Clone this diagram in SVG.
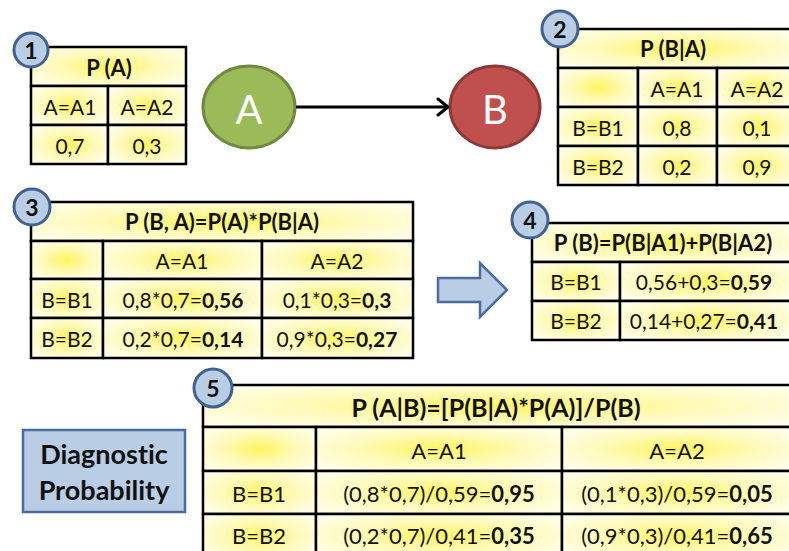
<svg xmlns="http://www.w3.org/2000/svg" width="789" height="551" viewBox="0 0 789 551">
  <defs>
    <radialGradient id="cell" cx="50%" cy="50%" r="60%">
      <stop offset="0" stop-color="#fff461"/>
      <stop offset="0.55" stop-color="#fffab8"/>
      <stop offset="1" stop-color="#fffde6"/>
    </radialGradient>
    <marker id="open-arrow" markerWidth="16" markerHeight="20" refX="13" refY="10" orient="auto" markerUnits="userSpaceOnUse">
      <path d="M3,2 L13,10 L3,18" fill="none" stroke="#000" stroke-width="3" stroke-linecap="round" stroke-linejoin="round"/>
    </marker>
    <style>
      text { font-variant-ligatures: none; }
      .c { fill: url(#cell); stroke: #000; stroke-width: 2.5; }
      .t { font-family: Lato, "Liberation Sans", sans-serif; font-size: 21px; fill: #111; text-anchor: middle; dominant-baseline: central; }
      .h { font-weight: bold; }
      .hd { font-size: 22px; }
      .big { font-size: 22px; }
      .bighd { font-size: 25px; }
      .badge { fill: #b9cde5; stroke: #41628f; stroke-width: 3; }
      .bn { font-family: Lato, "Liberation Sans", sans-serif; font-size: 23px; font-weight: bold; fill: #111; text-anchor: middle; dominant-baseline: central; }
      .lbl { font-family: Lato, "Liberation Sans", sans-serif; font-size: 27px; font-weight: bold; fill: #111; text-anchor: middle; dominant-baseline: central; }
      .node { font-family: Lato, "Liberation Sans", sans-serif; font-size: 40px; fill: #fff; text-anchor: middle; dominant-baseline: central; }
    </style>
  </defs>

  <!-- Bayesian network nodes -->
  <g id="node-a">
    <ellipse cx="249" cy="107" rx="46" ry="41" fill="#9bbb59" stroke="#71893f" stroke-width="3"/>
    <text class="node" x="249" y="109">A</text>
  </g>
  <g id="node-b">
    <ellipse cx="495" cy="107" rx="45" ry="41" fill="#c0504d" stroke="#8c3836" stroke-width="3"/>
    <text class="node" x="495" y="109">B</text>
  </g>

  <g id="connectors">
    <line x1="296" y1="107" x2="448" y2="107" stroke="#000" stroke-width="3" marker-end="url(#open-arrow)"/>
    <polygon points="438,278 480,278 480,263 507,290 480,317 480,302 438,302" fill="#b9cde5" stroke="#4a6d9c" stroke-width="2.5" stroke-linejoin="miter"/>
  </g>

  <!-- Table 1: P(A) -->
  <g id="table-1">
    <rect class="c" x="31" y="47" width="155" height="39"/>
    <rect class="c" x="31" y="86" width="77" height="39"/>
    <rect class="c" x="108" y="86" width="78" height="39"/>
    <rect class="c" x="31" y="125" width="77" height="39"/>
    <rect class="c" x="108" y="125" width="78" height="39"/>
    <text class="t h hd" x="109" y="67">P (A)</text>
    <text class="t" x="70" y="106">A=A1</text>
    <text class="t" x="147" y="106">A=A2</text>
    <text class="t" x="70" y="145">0,7</text>
    <text class="t" x="147" y="145">0,3</text>
    <circle class="badge" cx="31" cy="50" r="17"/>
    <text class="bn" x="31" y="50">1</text>
  </g>

  <!-- Table 2: P(B|A) -->
  <g id="table-2">
    <rect class="c" x="558" y="29" width="240" height="39"/>
    <rect class="c" x="558" y="68" width="80" height="39"/>
    <rect class="c" x="638" y="68" width="79" height="39"/>
    <rect class="c" x="717" y="68" width="81" height="39"/>
    <rect class="c" x="558" y="107" width="80" height="39"/>
    <rect class="c" x="638" y="107" width="79" height="39"/>
    <rect class="c" x="717" y="107" width="81" height="39"/>
    <rect class="c" x="558" y="146" width="80" height="39"/>
    <rect class="c" x="638" y="146" width="79" height="39"/>
    <rect class="c" x="717" y="146" width="81" height="39"/>
    <text class="t h hd" x="673" y="48">P (B|A)</text>
    <text class="t" x="677" y="88">A=A1</text>
    <text class="t" x="757" y="88">A=A2</text>
    <text class="t" x="598" y="127">B=B1</text>
    <text class="t" x="677" y="127">0,8</text>
    <text class="t" x="757" y="127">0,1</text>
    <text class="t" x="598" y="166">B=B2</text>
    <text class="t" x="677" y="166">0,2</text>
    <text class="t" x="757" y="166">0,9</text>
    <circle class="badge" cx="560" cy="29" r="18"/>
    <text class="bn" x="560" y="29">2</text>
  </g>

  <!-- Table 3: joint P(B, A) -->
  <g id="table-3">
    <rect class="c" x="31" y="202" width="382" height="39"/>
    <rect class="c" x="31" y="241" width="72" height="38"/>
    <rect class="c" x="103" y="241" width="159" height="38"/>
    <rect class="c" x="262" y="241" width="151" height="38"/>
    <rect class="c" x="31" y="279" width="72" height="39"/>
    <rect class="c" x="103" y="279" width="159" height="39"/>
    <rect class="c" x="262" y="279" width="151" height="39"/>
    <rect class="c" x="31" y="318" width="72" height="40"/>
    <rect class="c" x="103" y="318" width="159" height="40"/>
    <rect class="c" x="262" y="318" width="151" height="40"/>
    <text class="t h hd" x="222" y="221">P (B, A)=P(A)*P(B|A)</text>
    <text class="t" x="182" y="260">A=A1</text>
    <text class="t" x="337" y="260">A=A2</text>
    <text class="t" x="67" y="299">B=B1</text>
    <text class="t" x="183" y="299">0,8*0,7=<tspan class="h">0,56</tspan></text>
    <text class="t" x="337" y="299">0,1*0,3=<tspan class="h">0,3</tspan></text>
    <text class="t" x="67" y="338">B=B2</text>
    <text class="t" x="183" y="338">0,2*0,7=<tspan class="h">0,14</tspan></text>
    <text class="t" x="337" y="338">0,9*0,3=<tspan class="h">0,27</tspan></text>
    <circle class="badge" cx="32" cy="207" r="18"/>
    <text class="bn" x="32" y="207">3</text>
  </g>

  <!-- Table 4: marginal P(B) -->
  <g id="table-4">
    <rect class="c" x="532" y="223" width="260" height="39"/>
    <rect class="c" x="532" y="262" width="88" height="39"/>
    <rect class="c" x="620" y="262" width="172" height="39"/>
    <rect class="c" x="532" y="301" width="88" height="39"/>
    <rect class="c" x="620" y="301" width="172" height="39"/>
    <text class="t h hd" x="663" y="242">P (B)=P(B|A1)+P(B|A2)</text>
    <text class="t" x="576" y="281">B=B1</text>
    <text class="t" x="704" y="281">0,56+0,3=<tspan class="h">0,59</tspan></text>
    <text class="t" x="576" y="320">B=B2</text>
    <text class="t" x="704" y="320">0,14+0,27=<tspan class="h">0,41</tspan></text>
    <circle class="badge" cx="530" cy="220" r="18"/>
    <text class="bn" x="530" y="220">4</text>
  </g>

  <!-- Table 5: posterior P(A|B) -->
  <g id="table-5">
    <rect class="c" x="203" y="385" width="590" height="42"/>
    <rect class="c" x="203" y="427" width="113" height="44"/>
    <rect class="c" x="316" y="427" width="246" height="44"/>
    <rect class="c" x="562" y="427" width="231" height="44"/>
    <rect class="c" x="203" y="471" width="113" height="43"/>
    <rect class="c" x="316" y="471" width="246" height="43"/>
    <rect class="c" x="562" y="471" width="231" height="43"/>
    <rect class="c" x="203" y="514" width="113" height="44"/>
    <rect class="c" x="316" y="514" width="246" height="44"/>
    <rect class="c" x="562" y="514" width="231" height="44"/>
    <text class="t h bighd" x="496" y="407">P (A|B)=[P(B|A)*P(A)]/P(B)</text>
    <text class="t big" x="439" y="450">A=A1</text>
    <text class="t big" x="677" y="450">A=A2</text>
    <text class="t big" x="259" y="493">B=B1</text>
    <text class="t big" x="439" y="493">(0,8*0,7)/0,59=<tspan class="h">0,95</tspan></text>
    <text class="t big" x="677" y="493">(0,1*0,3)/0,59=<tspan class="h">0,05</tspan></text>
    <text class="t big" x="259" y="535">B=B2</text>
    <text class="t big" x="439" y="535">(0,2*0,7)/0,41=<tspan class="h">0,35</tspan></text>
    <text class="t big" x="677" y="535">(0,9*0,3)/0,41=<tspan class="h">0,65</tspan></text>
    <circle class="badge" cx="213" cy="388" r="19"/>
    <text class="bn" x="213" y="388">5</text>
  </g>

  <!-- Label box -->
  <g id="diagnostic-label">
    <rect x="23" y="430" width="162" height="82" fill="#b9cde5" stroke="#4a6d9c" stroke-width="2.5"/>
    <text class="lbl" x="104" y="453">Diagnostic</text>
    <text class="lbl" x="104" y="489">Probability</text>
  </g>
</svg>
